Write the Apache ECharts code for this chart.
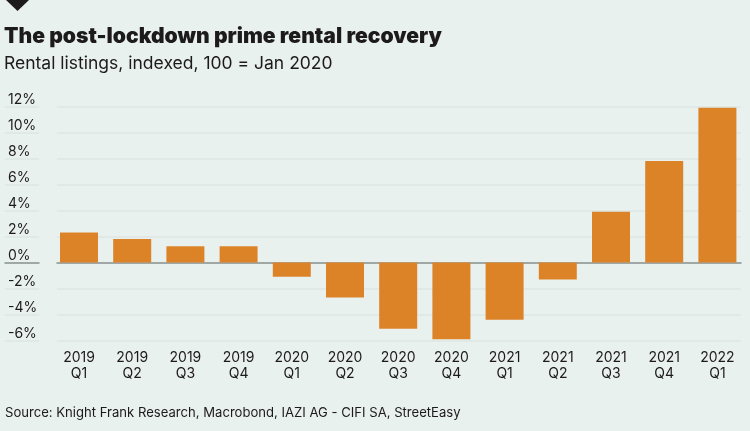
<!DOCTYPE html>
<html>
<head>
<meta charset="utf-8">
<style>
  html, body { margin: 0; padding: 0; background: #e9f1ee; }
  #chart { width: 750px; height: 431px; }
</style>
<script src="https://cdn.jsdelivr.net/npm/echarts@6/dist/echarts.min.js"></script>
</head>
<body>
<div id="chart"></div>
<script>
const quarters = ['2019\nQ1', '2019\nQ2', '2019\nQ3', '2019\nQ4', '2020\nQ1', '2020\nQ2', '2020\nQ3',
  '2020\nQ4', '2021\nQ1', '2021\nQ2', '2021\nQ3', '2021\nQ4', '2022\nQ1'];
const listings = [2.3, 1.8, 1.25, 1.25, -1.1, -2.7, -5.1, -5.9, -4.4, -1.3, 3.9, 7.8, 11.9];
const yMin = -6;
const yMax = 12;
const yStep = 2;

const font = 'Inter';
const plotTop = 106.5;
const plotHeight = 234;

const chart = echarts.init(document.getElementById('chart'));

// same y scale on three grids: bars, gridlines, and the short stubs under the tick labels
const yAxisBase = { type: 'value', min: yMin, max: yMax, interval: yStep };
const gridLine = { show: true, lineStyle: { color: '#dde6e3', width: 1.5 } };
const zeroLine = { show: true, onZero: true, lineStyle: { color: '#8b9291', width: 1.5 } };

chart.setOption({
  backgroundColor: '#e9f1ee',
  animation: false,
  title: [
    {
      text: 'The post-lockdown prime rental recovery',
      left: 4, top: 26, padding: 0,
      textStyle: { fontFamily: font, fontWeight: 900, fontSize: 21.1, color: '#1d1a1b' }
    },
    {
      text: 'Rental listings, indexed, 100 = Jan 2020',
      left: 4, top: 55, padding: 0,
      textStyle: { fontFamily: font, fontWeight: 400, fontSize: 17.5, color: '#1d1a1b' }
    },
    {
      text: 'Source: Knight Frank Research, Macrobond, IAZI AG - CIFI SA, StreetEasy',
      left: 5, top: 407, padding: 0,
      textStyle: { fontFamily: font, fontWeight: 400, fontSize: 13.1, color: '#1d1a1b' }
    }
  ],
  graphic: [
    {
      type: 'polygon',
      shape: { points: [[6, 0], [29, 0], [17.5, 11]] },
      style: { fill: '#1d1a1b' }
    }
  ],
  grid: [
    { left: 52.4, width: 691.6, top: plotTop, height: plotHeight },
    { left: 57, width: 684, top: plotTop, height: plotHeight },
    { left: 5, width: 34, top: plotTop, height: plotHeight }
  ],
  xAxis: [
    {
      type: 'category', gridIndex: 0, data: quarters,
      axisLine: { show: false },
      axisTick: { show: false },
      axisLabel: {
        interval: 0, position: 'bottom', fontFamily: font, fontSize: 14, lineHeight: 16,
        color: '#1d1a1b', margin: 0, padding: [9, 0, 0, 0]
      }
    },
    { type: 'category', gridIndex: 1, data: quarters, axisLine: zeroLine, axisTick: { show: false }, axisLabel: { show: false } },
    { type: 'category', gridIndex: 2, data: quarters, axisLine: zeroLine, axisTick: { show: false }, axisLabel: { show: false } }
  ],
  yAxis: [
    Object.assign({}, yAxisBase, { gridIndex: 0, splitLine: { show: false }, axisLabel: { show: false } }),
    Object.assign({}, yAxisBase, { gridIndex: 1, splitLine: gridLine, axisLabel: { show: false } }),
    Object.assign({}, yAxisBase, {
      gridIndex: 2,
      splitLine: gridLine,
      axisLabel: {
        inside: true, margin: 3, align: 'left', verticalAlign: 'bottom',
        fontFamily: font, fontSize: 14, color: '#1d1a1b',
        formatter: '{value}%', padding: 0
      }
    })
  ],
  series: [
    {
      type: 'bar',
      xAxisIndex: 0,
      yAxisIndex: 0,
      data: listings,
      barWidth: 38,
      z: 5,
      itemStyle: { color: '#dc8328' }
    }
  ]
});
</script>
</body>
</html>
